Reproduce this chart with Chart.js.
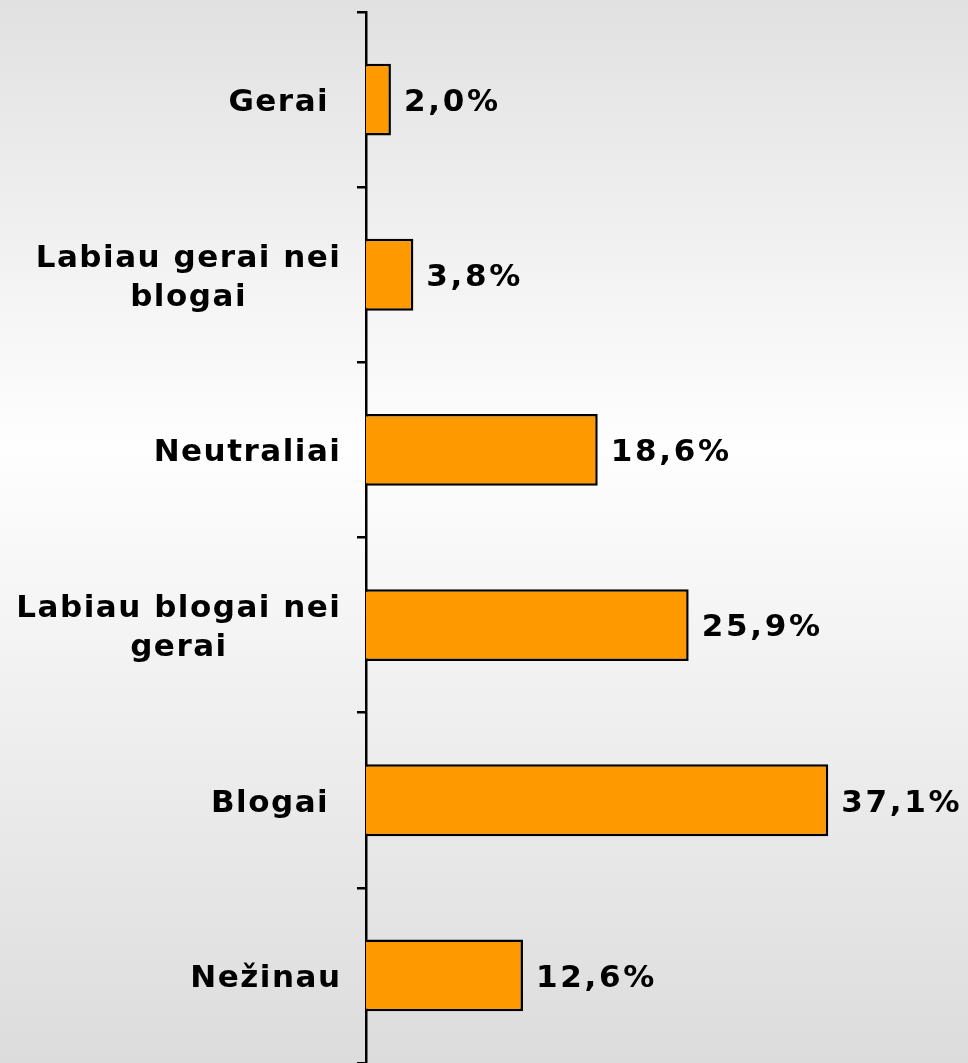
<!DOCTYPE html>
<html>
<head>
<meta charset="utf-8">
<script src="https://cdn.jsdelivr.net/npm/chart.js@4/dist/chart.umd.min.js"></script>
<style>
  body { margin: 0; background: #eee; }
  canvas { display: block; }
</style>
</head>
<body>
<canvas id="chart" width="968" height="1063"></canvas>
<script>
// answers, top to bottom
const categories = [
  ['Gerai '],
  ['Labiau gerai nei', 'blogai'],
  ['Neutraliai'],
  ['Labiau blogai nei', 'gerai'],
  ['Blogai '],
  ['Nežinau']
];
const percents = [2.0, 3.8, 18.6, 25.9, 37.1, 12.6];
const xMax = 48;

const SIZE = 31;
const FONT = 'bold ' + SIZE + 'px "DejaVu Sans"';
const CAP = SIZE * 0.729;

// width of text with letter spacing, not counting the trailing gap
function spacedWidth(ctx, txt, ls) {
  ctx.letterSpacing = '0px';
  return ctx.measureText(txt).width + ls * (txt.length - 1);
}

const background = {
  id: 'background',
  beforeDraw(chart) {
    const ctx = chart.ctx;
    const g = ctx.createLinearGradient(0, 0, 0, chart.height);
    g.addColorStop(0, '#e1e1e1');
    g.addColorStop(0.42, '#fefefe');
    g.addColorStop(1, '#dcdcdc');
    ctx.save();
    ctx.fillStyle = g;
    ctx.fillRect(0, 0, chart.width, chart.height);
    ctx.restore();
  }
};

const labels = {
  id: 'labels',
  afterDraw(chart) {
    const ctx = chart.ctx;
    const yScale = chart.scales.y;
    const meta = chart.getDatasetMeta(0);
    ctx.save();
    ctx.font = FONT;
    ctx.fillStyle = '#000';
    ctx.textAlign = 'left';
    ctx.textBaseline = 'alphabetic';

    // category names, lines centred on each other, block right-aligned
    const right = chart.chartArea.left - 26;
    const labLs = 1.5;
    categories.forEach((lines, i) => {
      const cy = yScale.getPixelForTick(i);
      const widths = lines.map(t => spacedWidth(ctx, t, labLs));
      const maxW = Math.max(...widths);
      const mid = right - maxW / 2;
      const step = 39;
      const first = cy - step * (lines.length - 1) / 2;
      lines.forEach((t, j) => {
        ctx.letterSpacing = labLs + 'px';
        ctx.fillText(t, mid - widths[j] / 2, first + j * step + CAP / 2);
      });
    });

    // values next to bars
    const valLs = 2.7;
    meta.data.forEach((bar, i) => {
      const txt = percents[i].toFixed(1).replace('.', ',') + '%';
      ctx.letterSpacing = valLs + 'px';
      ctx.fillText(txt, bar.x + 13, bar.y + CAP / 2);
    });
    ctx.restore();
  }
};

new Chart(document.getElementById('chart'), {
  type: 'bar',
  data: {
    labels: categories,
    datasets: [{
      data: percents,
      backgroundColor: '#ff9900',
      borderColor: '#000',
      borderWidth: 2.5,
      barPercentage: 0.41,
      categoryPercentage: 1
    }]
  },
  options: {
    indexAxis: 'y',
    responsive: false,
    animation: false,
    layout: { padding: { top: 12, right: 4, bottom: 0, left: 0 } },
    plugins: { legend: { display: false }, tooltip: { enabled: false } },
    scales: {
      x: { display: false, min: 0, max: xMax },
      y: {
        afterFit(scale) { scale.width = 366; },
        ticks: { display: false },
        grid: {
          drawOnChartArea: false,
          drawTicks: true,
          tickLength: 9,
          color: '#000',
          lineWidth: 2.5
        },
        border: { color: '#000', width: 2.5 }
      }
    }
  },
  plugins: [background, labels]
});
</script>
</body>
</html>
